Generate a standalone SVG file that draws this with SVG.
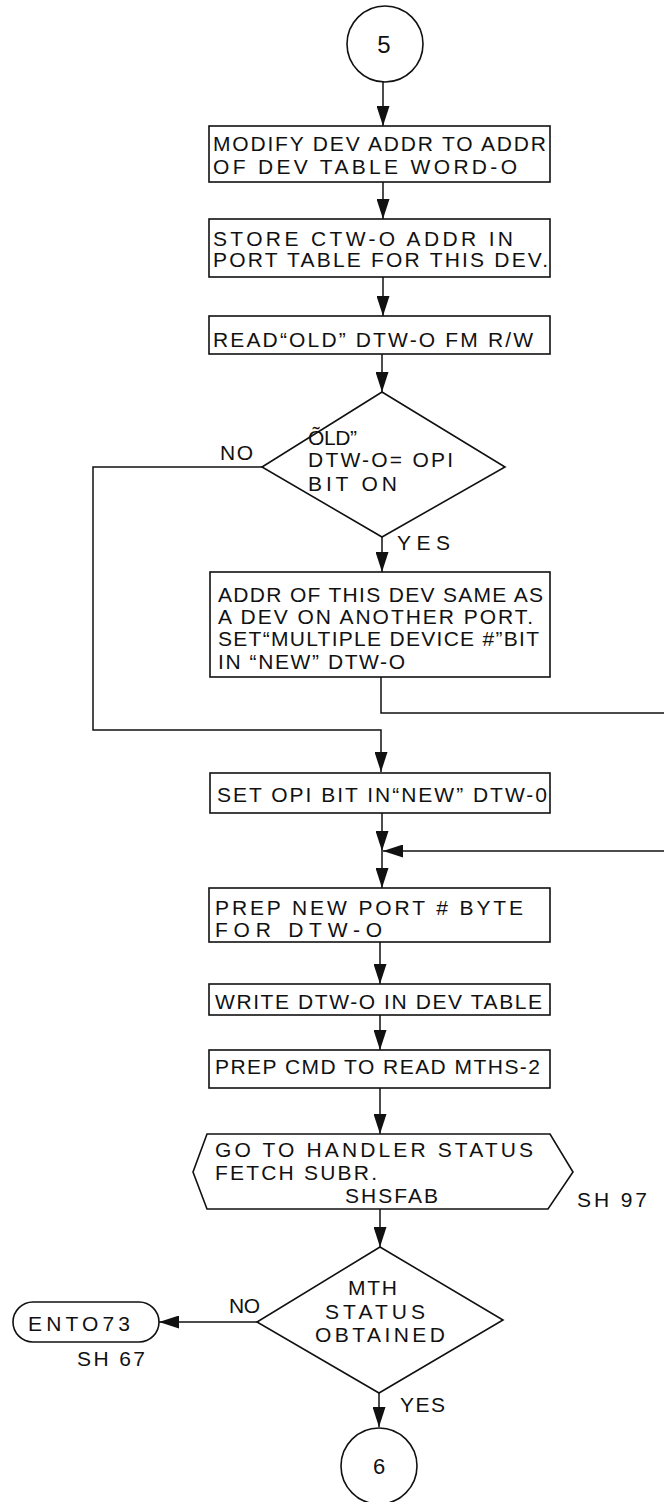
<svg xmlns="http://www.w3.org/2000/svg" width="664" height="1502" viewBox="0 0 664 1502">
<style>
.s{fill:none;stroke:#111;stroke-width:1.6}
.n{fill:#fff;stroke:#111;stroke-width:1.6}
.t{font-family:"Liberation Sans",Arial,sans-serif;font-size:21px;fill:#111}
.c{fill:none;stroke:#111;stroke-width:1.5}
</style>
<defs>
<marker id="ah" viewBox="0 0 20 13" refX="20" refY="6.5" markerWidth="20" markerHeight="13" markerUnits="userSpaceOnUse" orient="auto">
<path d="M0,0 L20,6.5 L0,13 Z" fill="#111"/>
</marker>
</defs>
<rect width="664" height="1502" fill="#fff"/>
<g id="connectors">
<path class="c" d="M383,82 V126" marker-end="url(#ah)"/>
<path class="c" d="M383,182 V219" marker-end="url(#ah)"/>
<path class="c" d="M383,277 V316" marker-end="url(#ah)"/>
<path class="c" d="M382,354 V392" marker-end="url(#ah)"/>
<path class="c" d="M382,537 V572" marker-end="url(#ah)"/>
<path class="c" d="M262,467 H93 V730 H381 V772" marker-end="url(#ah)"/>
<path class="c" d="M381,677 V713 H664"/>
<path class="c" d="M382,813 V851" marker-end="url(#ah)"/>
<path class="c" d="M664,851 H383" marker-end="url(#ah)"/>
<path class="c" d="M382,851 V888" marker-end="url(#ah)"/>
<path class="c" d="M380,942 V984" marker-end="url(#ah)"/>
<path class="c" d="M380,1015 V1050" marker-end="url(#ah)"/>
<path class="c" d="M380,1088 V1134" marker-end="url(#ah)"/>
<path class="c" d="M380,1209 V1247" marker-end="url(#ah)"/>
<path class="c" d="M257,1322 H159" marker-end="url(#ah)"/>
<path class="c" d="M379,1393 V1427" marker-end="url(#ah)"/>
</g>
<g id="start5">
<circle class="n" cx="385" cy="44" r="38"/>
<text class="t" x="384" y="53" text-anchor="middle" style="font-size:24px">5</text>
</g>
<g id="box1">
<rect class="n" x="209" y="126" width="341" height="56"/>
<text class="t" x="213" y="151" textLength="333" lengthAdjust="spacing">MODIFY DEV ADDR TO ADDR</text>
<text class="t" x="213" y="174" textLength="304" lengthAdjust="spacing">OF DEV TABLE WORD-O</text>
</g>
<g id="box2">
<rect class="n" x="209" y="219" width="341" height="58"/>
<text class="t" x="213" y="246" textLength="300" lengthAdjust="spacing">STORE CTW-O ADDR IN</text>
<text class="t" x="213" y="267" textLength="335" lengthAdjust="spacing">PORT TABLE FOR THIS DEV.</text>
</g>
<g id="box3">
<rect class="n" x="209" y="316" width="341" height="38"/>
<text class="t" x="213" y="347" textLength="320" lengthAdjust="spacing">READ“OLD” DTW-O FM R/W</text>
</g>
<g id="decision1">
<path class="n" d="M382,392 L505,467 L382,537 L262,467 Z"/>
<text class="t" x="308" y="445" textLength="49" lengthAdjust="spacing">ÕLD”</text>
<text class="t" x="308" y="467" textLength="145" lengthAdjust="spacing">DTW-O= OPI</text>
<text class="t" x="308" y="491" textLength="89" lengthAdjust="spacing">BIT ON</text>
<text class="t" x="220" y="460" textLength="33" lengthAdjust="spacing">NO</text>
<text class="t" x="397" y="550" textLength="53" lengthAdjust="spacing">YES</text>
</g>
<g id="box4">
<rect class="n" x="210" y="572" width="340" height="105"/>
<text class="t" x="218" y="602" textLength="325" lengthAdjust="spacing">ADDR OF THIS DEV SAME AS</text>
<text class="t" x="218" y="624" textLength="315" lengthAdjust="spacing">A DEV ON ANOTHER PORT.</text>
<text class="t" x="218" y="646" textLength="321" lengthAdjust="spacing">SET“MULTIPLE DEVICE #”BIT</text>
<text class="t" x="218" y="669" textLength="187" lengthAdjust="spacing">IN “NEW” DTW-O</text>
</g>
<g id="box5">
<rect class="n" x="210" y="773" width="340" height="40"/>
<text class="t" x="217" y="802" textLength="330" lengthAdjust="spacing">SET OPI BIT IN“NEW” DTW-0</text>
</g>
<g id="box6">
<rect class="n" x="209" y="888" width="341" height="54"/>
<text class="t" x="215" y="915" textLength="308" lengthAdjust="spacing">PREP NEW PORT # BYTE</text>
<text class="t" x="215" y="937" textLength="167" lengthAdjust="spacing">FOR DTW-O</text>
</g>
<g id="box7">
<rect class="n" x="209" y="984" width="341" height="31"/>
<text class="t" x="215" y="1009" textLength="327" lengthAdjust="spacing">WRITE DTW-O IN DEV TABLE</text>
</g>
<g id="box8">
<rect class="n" x="209" y="1050" width="341" height="38"/>
<text class="t" x="215" y="1074" textLength="325" lengthAdjust="spacing">PREP CMD TO READ MTHS-2</text>
</g>
<g id="subroutine">
<path class="n" d="M207,1134 L550,1134 L573,1172 L548,1209 L207,1209 L193,1172 Z"/>
<text class="t" x="215" y="1157" textLength="318" lengthAdjust="spacing">GO TO HANDLER STATUS</text>
<text class="t" x="215" y="1180" textLength="162" lengthAdjust="spacing">FETCH SUBR.</text>
<text class="t" x="345" y="1203" textLength="93" lengthAdjust="spacing">SHSFAB</text>
<text class="t" x="577" y="1207" textLength="70" lengthAdjust="spacing">SH 97</text>
</g>
<g id="decision2">
<path class="n" d="M380,1247 L503,1320 L379,1393 L257,1322 Z"/>
<text class="t" x="348" y="1295" textLength="49" lengthAdjust="spacing">MTH</text>
<text class="t" x="325" y="1319" textLength="100" lengthAdjust="spacing">STATUS</text>
<text class="t" x="315" y="1342" textLength="130" lengthAdjust="spacing">OBTAINED</text>
<text class="t" x="229" y="1313" textLength="31" lengthAdjust="spacing">NO</text>
<text class="t" x="400" y="1412" textLength="45" lengthAdjust="spacing">YES</text>
</g>
<g id="terminal">
<rect class="n" x="13" y="1302" width="146" height="40" rx="20" ry="20"/>
<text class="t" x="28" y="1331" textLength="102" lengthAdjust="spacing">ENTO73</text>
<text class="t" x="77" y="1366" textLength="68" lengthAdjust="spacing">SH 67</text>
</g>
<g id="end6">
<circle class="n" cx="379" cy="1466" r="38"/>
<text class="t" x="379" y="1474" text-anchor="middle" style="font-size:22px">6</text>
</g>
</svg>
